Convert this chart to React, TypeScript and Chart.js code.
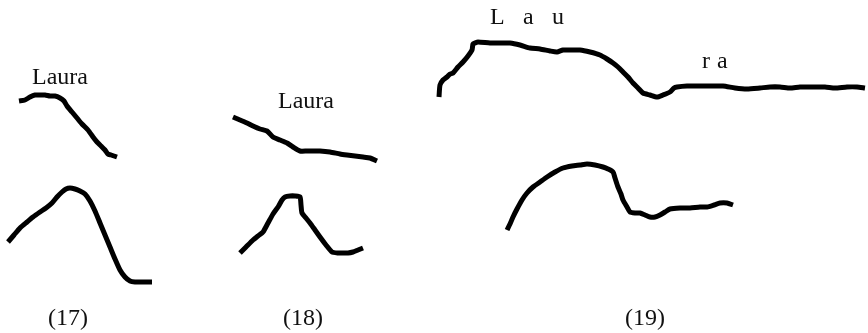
import React, { useEffect, useRef } from "react";
import { Chart, registerables } from "chart.js";

Chart.register(...registerables);

// Pitch contours: time (x) and pitch height (y, measured downward on the page)
const c17aTime = [19, 25, 30, 35, 40, 45, 50, 55, 60, 64, 67, 72, 77, 82, 88, 93, 97, 101, 105, 108, 111, 114, 117];
const c17aPitch = [101, 100, 97, 95, 95, 95, 96, 96, 98, 101, 106, 112, 118, 124, 130, 137, 142, 146, 150, 154, 155, 156, 157];

const c17bTime = [8, 14, 20, 27, 33, 40, 46, 52, 57, 62, 66, 70, 75, 80, 85, 90, 95, 100, 105, 110, 115, 120, 125, 130, 135, 142, 152];
const c17bPitch = [242, 235, 228, 222, 217, 212, 208, 203, 197, 192, 189, 188, 189, 191, 194, 201, 211, 223, 235, 247, 259, 270, 277, 281, 282, 282, 282];

const c18aTime = [233, 240, 247, 253, 260, 267, 273, 280, 287, 293, 300, 307, 313, 320, 330, 340, 347, 355, 363, 370, 377];
const c18aPitch = [117, 120, 123, 126, 129, 131, 137, 140, 143, 147, 151, 151, 151, 151, 152, 154, 155, 156, 157, 158, 161];

const c18bTime = [240, 246, 253, 258, 263, 268, 273, 278, 282, 285, 290, 295, 300, 301, 302, 306, 310, 315, 320, 326, 332, 338, 343, 348, 353, 358, 363];
const c18bPitch = [253, 247, 240, 236, 232, 223, 214, 207, 200, 197, 196, 196, 197, 205, 213, 218, 223, 230, 237, 245, 252, 253, 253, 253, 252, 250, 248];

const c19aTime = [439, 440, 443, 447, 450, 453, 458, 463, 468, 472, 473, 475, 478, 490, 500, 510, 520, 530, 540, 550, 557, 563, 570, 580, 590, 600, 607, 613, 618, 623, 628, 633, 638, 643, 650, 657, 663, 670, 674, 677, 687, 697, 710, 723, 735, 747, 760, 770, 780, 790, 800, 813, 825, 835, 847, 857, 865];
const c19aPitch = [97, 85, 80, 77, 74, 73, 67, 62, 56, 50, 44, 43, 42, 43, 43, 43, 45, 48, 49, 51, 52, 50, 50, 50, 52, 55, 59, 63, 67, 72, 77, 83, 88, 93, 95, 97, 95, 92, 88, 87, 86, 86, 86, 86, 88, 89, 88, 87, 87, 88, 87, 87, 87, 88, 87, 87, 88];

const c19bTime = [507, 510, 513, 517, 522, 527, 533, 540, 547, 555, 563, 572, 580, 587, 595, 603, 608, 613, 615, 618, 621, 623, 627, 630, 635, 640, 645, 650, 655, 660, 665, 670, 680, 690, 700, 707, 714, 720, 727, 733];
const c19bPitch = [230, 224, 217, 209, 200, 193, 187, 182, 177, 172, 168, 166, 165, 164, 165, 167, 169, 172, 178, 187, 194, 200, 207, 212, 213, 213, 215, 217, 217, 215, 212, 209, 208, 208, 207, 207, 205, 203, 203, 205];

// Text annotations (in data coordinates)
const labelTexts = ["Laura", "Laura", "L", "a", "u", "r", "a", "(17)", "(18)", "(19)"];
const labelTime = [32, 278, 490, 523, 552, 702, 717, 48, 283, 625];
const labelPitch = [84, 108, 24, 24, 24, 68, 68, 325, 325, 325];

const contours = [
  [c17aTime, c17aPitch],
  [c17bTime, c17bPitch],
  [c18aTime, c18aPitch],
  [c18bTime, c18bPitch],
  [c19aTime, c19aPitch],
  [c19bTime, c19bPitch],
];

const labelPlugin = {
  id: "contourLabels",
  afterDatasetsDraw(chart: any) {
    const { ctx, scales } = chart;
    ctx.save();
    ctx.fillStyle = "#111111";
    ctx.font = "24px 'Liberation Serif', 'DejaVu Serif', serif";
    ctx.textAlign = "left";
    ctx.textBaseline = "alphabetic";
    labelTexts.forEach((t, i) => {
      ctx.fillText(t, scales.x.getPixelForValue(labelTime[i]), scales.y.getPixelForValue(labelPitch[i]));
    });
    ctx.restore();
  },
};

export default function App() {
  const ref = useRef<HTMLCanvasElement | null>(null);
  useEffect(() => {
    if (!ref.current) return;
    const chart = new Chart(ref.current, {
      type: "scatter",
      data: {
        datasets: contours.map(([xs, ys]) => ({
          data: xs.map((x, i) => ({ x, y: ys[i] })),
          showLine: true,
          borderColor: "#000000",
          borderWidth: 5,
          pointRadius: 0,
          tension: 0.2,
          borderJoinStyle: "round" as const,
          borderCapStyle: "butt" as const,
        })),
      },
      options: {
        animation: false,
        responsive: true,
        maintainAspectRatio: false,
        layout: { padding: 0 },
        plugins: { legend: { display: false }, tooltip: { enabled: false } },
        scales: {
          x: { type: "linear", min: 0, max: 868, display: false },
          y: { type: "linear", min: 0, max: 333, reverse: true, display: false },
        },
      },
      plugins: [labelPlugin],
    });
    return () => chart.destroy();
  }, []);
  return (
    <div style={{ position: "absolute", left: 0, top: 0, width: 868, height: 333, background: "#fff" }}>
      <canvas ref={ref} />
    </div>
  );
}
